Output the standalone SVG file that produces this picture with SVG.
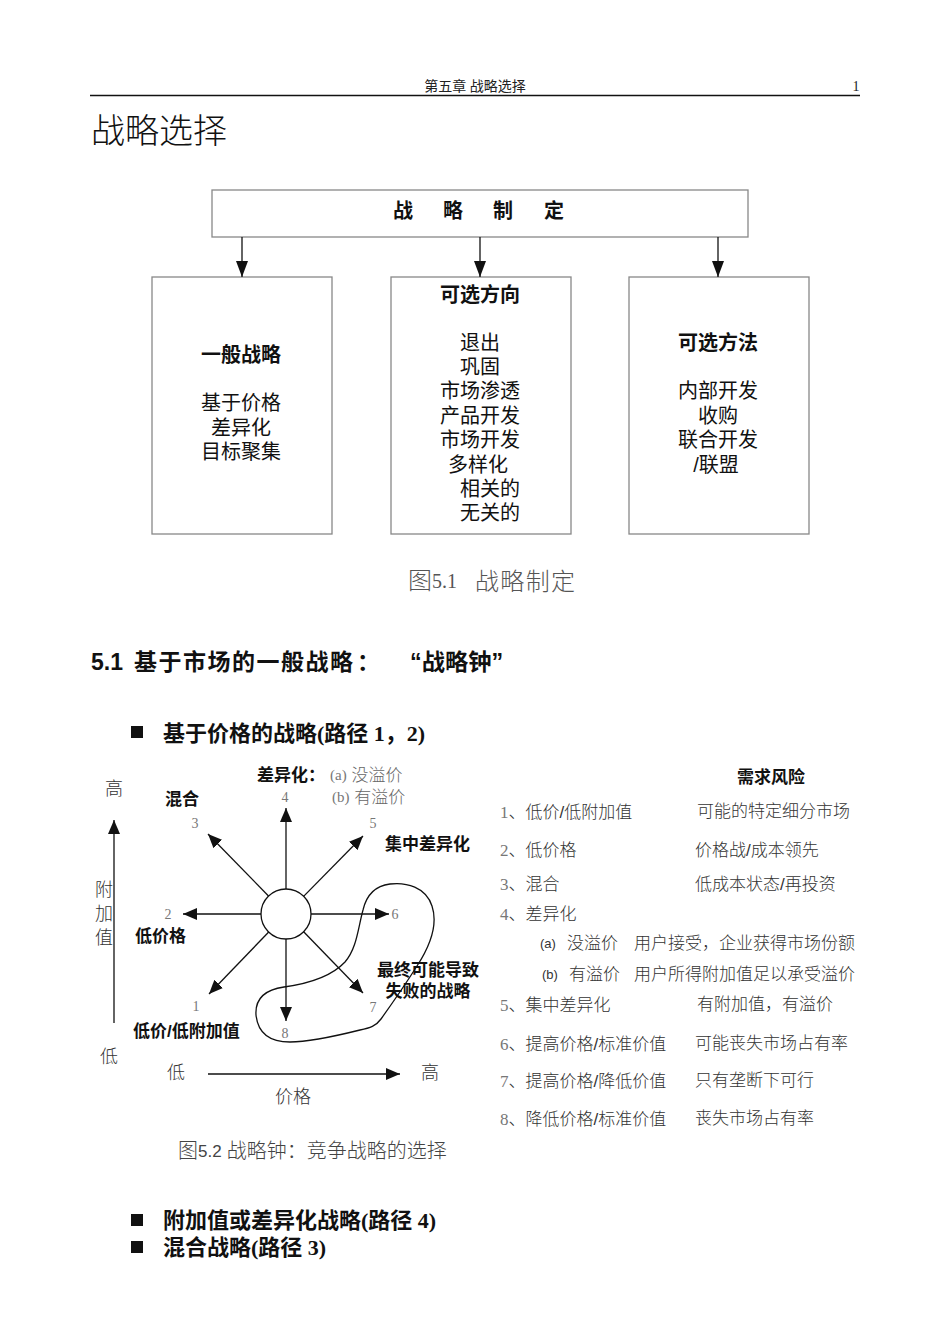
<svg xmlns="http://www.w3.org/2000/svg" width="950" height="1344" viewBox="0 0 950 1344">
<style>
text{dominant-baseline:central}
.serif{font-family:"Liberation Serif","Noto Sans CJK SC",serif}
.sans{font-family:"Liberation Sans","Noto Sans CJK SC",sans-serif}
.box{fill:#fff;stroke:#888;stroke-width:1.3}
.bt{font-family:"Liberation Sans","Noto Sans CJK SC",sans-serif;font-size:20px;fill:#111;text-anchor:middle}
.bh{font-weight:bold}
.ln{stroke:#111;stroke-width:1.3;fill:none}
.lab{font-family:"Liberation Sans","Noto Sans CJK SC",sans-serif;font-size:17px;font-weight:bold;fill:#111}
.num{font-family:"Liberation Serif",serif;font-size:14px;fill:#777;text-anchor:middle}
.ax{font-family:"Liberation Sans","Noto Sans CJK SC",sans-serif;font-size:18px;fill:#333;font-weight:300;text-anchor:middle}
.tb{font-family:"Liberation Sans","Noto Sans CJK SC",sans-serif;font-size:17px;fill:#333;font-weight:300}
.tn{font-family:"Liberation Serif",serif;fill:#777}
.gr{fill:#666}
.bul{font-family:"Liberation Serif","Noto Sans CJK SC",serif;font-size:22px;font-weight:bold;fill:#111}
.hd{font-family:"Liberation Sans","Noto Sans CJK SC",sans-serif;font-size:23px;font-weight:bold;fill:#111}
</style>
<defs>
<marker id="ah" viewBox="0 0 16 12" refX="16" refY="6" markerWidth="16" markerHeight="12" markerUnits="userSpaceOnUse" orient="auto">
<path d="M0,0 L16,6 L0,12 Z" fill="#111"/>
</marker>
<marker id="as" viewBox="0 0 14 12" refX="14" refY="6" markerWidth="14" markerHeight="12" markerUnits="userSpaceOnUse" orient="auto">
<path d="M0,0 L14,6 L0,12 Z" fill="#111"/>
</marker>
</defs>

<g id="header">
<text class="serif" x="475" y="86" font-size="14" text-anchor="middle" fill="#222">第五章 战略选择</text>
<text class="serif" x="856" y="86" font-size="14" text-anchor="middle" fill="#222">1</text>
<line x1="90" y1="95.5" x2="860" y2="95.5" stroke="#111" stroke-width="1.6"/>
<text class="serif" x="91" y="131" font-size="34" font-weight="300" fill="#111">战略选择</text>
</g>

<g id="fig1">
<g id="n-top">
<rect class="box" x="212" y="190" width="536" height="47"/>
<text class="bt bh" font-size="25" font-weight="900" y="211"><tspan x="403">战</tspan><tspan x="453">略</tspan><tspan x="503">制</tspan><tspan x="554">定</tspan></text>
</g>
<g id="n-general">
<rect class="box" x="152" y="277" width="180" height="257"/>
<text class="bt bh" x="241" y="355">一般战略</text>
<text class="bt" x="241" y="403">基于价格</text>
<text class="bt" x="241" y="428">差异化</text>
<text class="bt" x="241" y="452">目标聚集</text>
</g>
<g id="n-direction">
<rect class="box" x="391" y="277" width="180" height="257"/>
<text class="bt bh" x="480" y="295">可选方向</text>
<text class="bt" x="480" y="343">退出</text>
<text class="bt" x="480" y="367">巩固</text>
<text class="bt" x="480" y="391">市场渗透</text>
<text class="bt" x="480" y="416">产品开发</text>
<text class="bt" x="480" y="440">市场开发</text>
<text class="bt" x="478" y="465">多样化</text>
<text class="bt" x="490" y="489">相关的</text>
<text class="bt" x="490" y="513">无关的</text>
</g>
<g id="n-method">
<rect class="box" x="629" y="277" width="180" height="257"/>
<text class="bt bh" x="718" y="343">可选方法</text>
<text class="bt" x="718" y="391">内部开发</text>
<text class="bt" x="718" y="416">收购</text>
<text class="bt" x="718" y="440">联合开发</text>
<text class="bt" x="716" y="465">/联盟</text>
</g>
<g id="connectors1">
<line class="ln" x1="242" y1="237" x2="242" y2="277" marker-end="url(#ah)"/>
<line class="ln" x1="480" y1="237" x2="480" y2="277" marker-end="url(#ah)"/>
<line class="ln" x1="718" y1="237" x2="718" y2="277" marker-end="url(#ah)"/>
</g>
<text class="serif" x="408" y="581" font-size="24" fill="#555" font-weight="300">图<tspan font-family="Liberation Serif" font-size="20">5.1</tspan></text>
<text class="sans" x="475" y="581" font-size="24" fill="#555" font-weight="300" textLength="100" lengthAdjust="spacing">战略制定</text>
</g>

<g id="section">
<text class="hd" x="91" y="662">5.1</text>
<text class="hd" x="134" y="662" textLength="219" lengthAdjust="spacing">基于市场的一般战略</text>
<text class="hd" x="357" y="662">：</text>
<text class="hd" x="410" y="662" textLength="93" lengthAdjust="spacingAndGlyphs">“战略钟”</text>
<rect x="131" y="726" width="12" height="12" fill="#111"/>
<text class="bul" x="163" y="733">基于价格的战略(路径 1，2)</text>
</g>

<g id="fig2">
<g id="axes">
<line class="ln" x1="114" y1="1023" x2="114" y2="820" marker-end="url(#as)"/>
<line class="ln" x1="208" y1="1074" x2="400" y2="1074" marker-end="url(#as)"/>
<text class="ax" x="114" y="789">高</text>
<text class="ax" x="104" y="890">附</text>
<text class="ax" x="104" y="914">加</text>
<text class="ax" x="104" y="938">值</text>
<text class="ax" x="109" y="1057">低</text>
<text class="ax" x="176" y="1073">低</text>
<text class="ax" x="430" y="1073">高</text>
<text class="ax" x="293" y="1097">价格</text>
</g>
<g id="hub">
<circle cx="286" cy="914" r="25" fill="#fff" stroke="#111" stroke-width="1.3"/>
</g>
<g id="connectors2">
<line class="ln" x1="286" y1="889" x2="286" y2="808" marker-end="url(#as)"/>
<line class="ln" x1="268.5" y1="896" x2="208" y2="834" marker-end="url(#as)"/>
<line class="ln" x1="303.6" y1="896.4" x2="363" y2="836" marker-end="url(#as)"/>
<line class="ln" x1="261" y1="914" x2="183" y2="914" marker-end="url(#as)"/>
<line class="ln" x1="311" y1="914" x2="389" y2="914" marker-end="url(#as)"/>
<line class="ln" x1="268.7" y1="932" x2="209" y2="994" marker-end="url(#as)"/>
<line class="ln" x1="303.4" y1="931.5" x2="363" y2="993" marker-end="url(#as)"/>
<line class="ln" x1="286" y1="939" x2="286" y2="1021" marker-end="url(#as)"/>
<path class="ln" d="M363,910 C366,897 374,886 390,884 C406,882 426,887 432,906 C438,924 430,946 417,966 C405,985 391,1005 381,1019 C376,1026 370,1028 360,1030 C340,1035 310,1042 290,1042 C270,1042 258,1034 256,1015 C255,1000 263,990 284,987 C306,984 330,978 345,962 C357,948 358,928 363,910 Z"/>
</g>
<g id="labels2">
<text class="num" x="285" y="797">4</text>
<text class="num" x="195" y="823">3</text>
<text class="num" x="373" y="823">5</text>
<text class="num" x="168" y="914">2</text>
<text class="num" x="398" y="914" text-anchor="start" dx="-3">6</text>
<text class="num" x="196" y="1006">1</text>
<text class="num" x="373" y="1007">7</text>
<text class="num" x="285" y="1033">8</text>
<text class="lab" x="257" y="775">差异化：</text>
<text class="tb gr" x="330" y="775" font-size="17"><tspan class="tn" font-size="15">(a)</tspan> 没溢价</text>
<text class="tb gr" x="332" y="797" font-size="17"><tspan class="tn" font-size="15">(b)</tspan> 有溢价</text>
<text class="lab" x="165" y="799">混合</text>
<text class="lab" x="385" y="844">集中差异化</text>
<text class="lab" x="135" y="936">低价格</text>
<text class="lab" x="133" y="1031">低价/低附加值</text>
<text class="lab" x="428" y="970" text-anchor="middle">最终可能导致</text>
<text class="lab" x="428" y="991" text-anchor="middle">失败的战略</text>
</g>
<text class="serif" x="178" y="1151" font-size="20" fill="#444" font-weight="300">图<tspan font-family="Liberation Sans" font-size="17">5.2</tspan> 战略钟：竞争战略的选择</text>
</g>

<g id="table">
<text class="lab" x="737" y="777">需求风险</text>
<text class="tb" x="500" y="812"><tspan class="tn">1</tspan>、低价/低附加值</text>
<text class="tb" x="697" y="811">可能的特定细分市场</text>
<text class="tb" x="500" y="850"><tspan class="tn">2</tspan>、低价格</text>
<text class="tb" x="695" y="850">价格战/成本领先</text>
<text class="tb" x="500" y="884"><tspan class="tn">3</tspan>、混合</text>
<text class="tb" x="695" y="884">低成本状态/再投资</text>
<text class="tb" x="500" y="914"><tspan class="tn">4</tspan>、差异化</text>
<text class="tb" x="540" y="943"><tspan font-size="13">(a)</tspan></text>
<text class="tb" x="567" y="943">没溢价</text>
<text class="tb" x="634" y="943">用户接受，企业获得市场份额</text>
<text class="tb" x="542" y="974"><tspan font-size="13">(b)</tspan></text>
<text class="tb" x="569" y="974">有溢价</text>
<text class="tb" x="634" y="974">用户所得附加值足以承受溢价</text>
<text class="tb" x="500" y="1005"><tspan class="tn">5</tspan>、集中差异化</text>
<text class="tb" x="697" y="1004">有附加值，有溢价</text>
<text class="tb" x="500" y="1044"><tspan class="tn">6</tspan>、提高价格/标准价值</text>
<text class="tb" x="695" y="1043">可能丧失市场占有率</text>
<text class="tb" x="500" y="1081"><tspan class="tn">7</tspan>、提高价格/降低价值</text>
<text class="tb" x="695" y="1080">只有垄断下可行</text>
<text class="tb" x="500" y="1119"><tspan class="tn">8</tspan>、降低价格/标准价值</text>
<text class="tb" x="695" y="1118">丧失市场占有率</text>
</g>

<g id="bullets">
<rect x="131" y="1214" width="12" height="12" fill="#111"/>
<text class="bul" x="163" y="1220">附加值或差异化战略(路径 4)</text>
<rect x="131" y="1241" width="12" height="12" fill="#111"/>
<text class="bul" x="163" y="1247">混合战略(路径 3)</text>
</g>
</svg>
